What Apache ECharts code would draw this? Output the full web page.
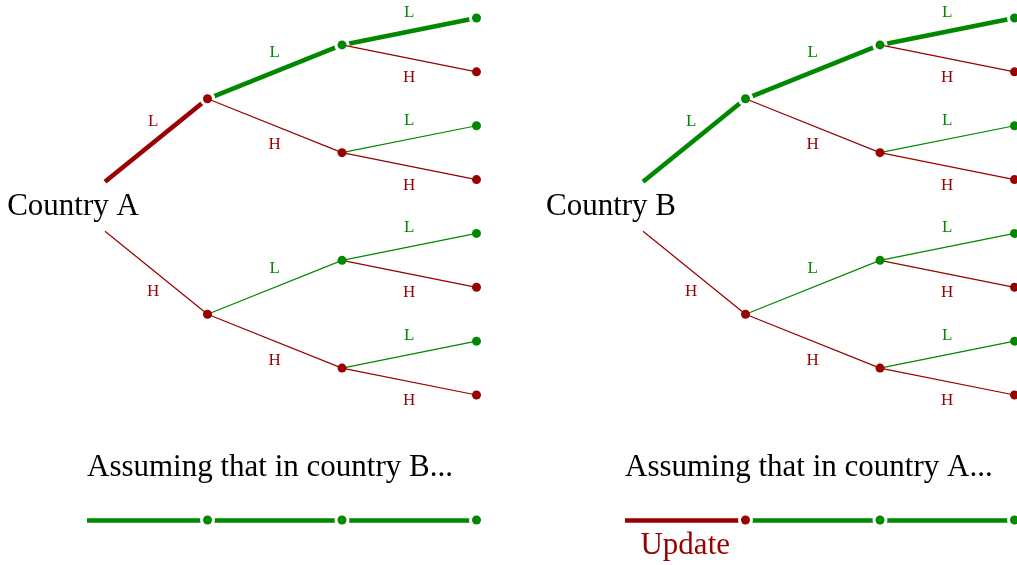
<!DOCTYPE html>
<html><head><meta charset="utf-8">
<script src="https://cdn.jsdelivr.net/npm/echarts@6/dist/echarts.min.js"></script>
<style>html,body{margin:0;padding:0;background:#fff}#c{width:1017px;height:565px}</style>
</head><body><div id="c"></div>
<script>
// ---- data ----
const countries = ['Country A', 'Country B'];
const branchLabels = ['L', 'H'];            // upper branch, lower branch
const treeLevels = 3;
const boldPath = ['L', 'L', 'L'];           // highlighted path in each tree
const boldPathColours = [['H', 'L', 'L'], ['L', 'L', 'L']]; // colour class per step
const captions = ['Assuming that in country B...', 'Assuming that in country A...'];
const timelineColours = [['L', 'L', 'L'], ['H', 'L', 'L']];
const timelineNotes = ['', 'Update'];

// ---- style / layout ----
const COLOURS = { L: '#008800', H: '#990000' };
const FONT = 'Liberation Serif';
const TREE_SHIFT = 4, ROOT_X = 0.238, ROOT_DY = 0.46;
const CAPTION_Y = 8.36, TIMELINE_Y = 9.32, NOTE_Y = 9.80, TIMELINE_X0 = 0.104;
const THICK = 4.6, THIN = 1.2, DOT = 9, HALO = 15;

function nodeY(depth, j) { return (j + 0.5) * Math.pow(2, treeLevels - depth) - 0.5; }

const thick = [], thin = [], halos = [], dots = [], edgeLabels = [], texts = [];

countries.forEach((name, t) => {
  const ox = t * TREE_SHIFT;
  texts.push({ value: [ox, nodeY(0, 0)], name: name, label: { align: 'center', color: '#000' } });
  for (let d = 1; d <= treeLevels; d++) {
    for (let j = 0; j < 2 ** d; j++) {
      const parent = j >> 1;
      const br = branchLabels[j & 1];
      const start = d === 1
        ? [ox + ROOT_X, nodeY(0, 0) + (j === 0 ? -ROOT_DY : ROOT_DY)]
        : [ox + d - 1, nodeY(d - 1, parent)];
      const end = [ox + d, nodeY(d, j)];
      let onPath = true;
      for (let k = 0; k < d; k++) {
        const bit = (j >> (d - 1 - k)) & 1;
        if (branchLabels[bit] !== boldPath[k]) onPath = false;
      }
      const ck = onPath ? boldPathColours[t][d - 1] : br;
      const col = COLOURS[ck];
      const seg = { coords: [start, end], lineStyle: { color: col, width: onPath ? THICK : THIN } };
      if (onPath) {
        thick.push(seg);
        halos.push({ value: end });
        if (d > 1) halos.push({ value: start });
      } else thin.push(seg);
      dots.push({ value: end, itemStyle: { color: col } });
      const mid = [(start[0] + end[0]) / 2, (start[1] + end[1]) / 2];
      edgeLabels.push({
        value: mid, name: br,
        label: { color: col, offset: [d === 1 ? -3 : 0, (j & 1) === 0 ? -19 : 19] }
      });
    }
  }
  // timeline
  const x0 = ox + TIMELINE_X0;
  texts.push({ value: [x0, CAPTION_Y], name: captions[t], label: { align: 'left', color: '#000' } });
  timelineColours[t].forEach((ck, k) => {
    const s = [k === 0 ? x0 : ox + k, TIMELINE_Y], e = [ox + k + 1, TIMELINE_Y];
    thick.push({ coords: [s, e], lineStyle: { color: COLOURS[ck], width: THICK } });
    halos.push({ value: e });
    dots.push({ value: e, itemStyle: { color: COLOURS[ck] } });
  });
  if (timelineNotes[t]) {
    const ck = timelineColours[t][0];
    texts.push({ value: [(x0 + ox + 1) / 2, NOTE_Y], name: timelineNotes[t], label: { align: 'center', color: COLOURS[ck] } });
  }
});

const labelBase = { show: true, position: 'inside', formatter: '{b}', fontFamily: FONT,
  verticalAlign: 'middle', textBorderWidth: 0, textShadowBlur: 0, opacity: 1 };

const chart = echarts.init(document.getElementById('c'), null, { renderer: 'canvas' });
chart.setOption({
  animation: false,
  backgroundColor: '#fff',
  grid: { left: 73, top: 18, width: 941.5, height: 538.6 },
  xAxis: { type: 'value', min: 0, max: 7, show: false },
  yAxis: { type: 'value', min: 0, max: 10, inverse: true, show: false },
  series: [
    { type: 'lines', coordinateSystem: 'cartesian2d', z: 1, clip: false, data: thick, lineStyle: { opacity: 1, cap: 'butt' } },
    { type: 'scatter', z: 2, clip: false, symbolSize: HALO, itemStyle: { color: '#fff', opacity: 1 }, data: halos, silent: true },
    { type: 'lines', coordinateSystem: 'cartesian2d', z: 3, clip: false, data: thin, lineStyle: { opacity: 1 } },
    { type: 'scatter', z: 4, clip: false, symbolSize: DOT, data: dots, itemStyle: { opacity: 1 } },
    { type: 'scatter', z: 5, clip: false, symbolSize: 0, data: edgeLabels, itemStyle: { opacity: 1 },
      label: Object.assign({}, labelBase, { fontSize: 17 }) },
    { type: 'scatter', z: 5, clip: false, symbolSize: 0, data: texts, itemStyle: { opacity: 1 },
      label: Object.assign({}, labelBase, { fontSize: 31 }) }
  ]
});
</script></body></html>
